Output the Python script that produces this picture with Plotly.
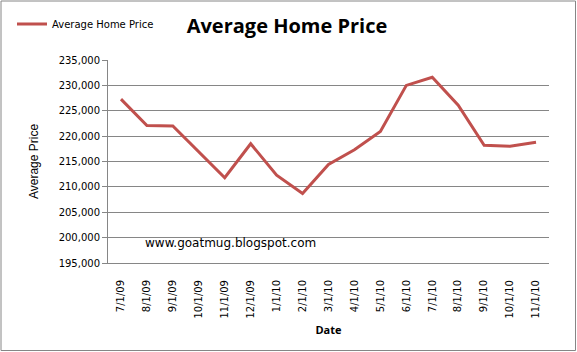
import plotly.graph_objects as go

dates = ["7/1/09", "8/1/09", "9/1/09", "10/1/09", "11/1/09", "12/1/09", "1/1/10",
         "2/1/10", "3/1/10", "4/1/10", "5/1/10", "6/1/10", "7/1/10", "8/1/10",
         "9/1/10", "10/1/10", "11/1/10"]
prices = [227300, 222100, 222000, 217000, 211800, 218500, 212300, 208700, 214400,
          217300, 220900, 230000, 231600, 226100, 218200, 218000, 218800]
y_ticks = [195000, 200000, 205000, 210000, 215000, 220000, 225000, 230000, 235000]

W, H = 577, 352
L, R, T, B = 108, 28, 60, 89
pw, ph = W - L - R, H - T - B

fig = go.Figure()
fig.add_trace(go.Scatter(
    x=dates, y=prices, mode="lines", name="Average Home Price",
    line=dict(color="#C0504D", width=3),
))

fig.update_layout(
    width=W, height=H,
    margin=dict(l=L, r=R, t=T, b=B, autoexpand=False),
    paper_bgcolor="white", plot_bgcolor="white",
    title=dict(text="<b>Average Home Price</b>", x=287 / W, xanchor="center",
               y=1 - 26 / H, yanchor="middle",
               font=dict(family="Open Sans", size=20, color="black")),
    showlegend=True,
    legend=dict(xref="paper", yref="paper", x=(12 - L) / pw, y=1 + (T - 24) / ph,
                xanchor="left", yanchor="middle",
                font=dict(family="DejaVu Sans", size=10, color="black"),
                bgcolor="rgba(0,0,0,0)", itemwidth=30),
    font=dict(family="DejaVu Sans", size=10, color="black"),
)

fig.update_xaxes(
    type="category", range=[-0.5, len(dates) - 0.5], tickangle=-90, showgrid=False,
    showline=True, linecolor="#868686", linewidth=1,
    ticks="outside", ticklen=12, tickcolor="rgba(0,0,0,0)",
    tickfont=dict(family="DejaVu Sans", size=10, color="black"),
    title=dict(text="<b>Date</b>", font=dict(family="Open Sans", size=11, color="black"),
               standoff=8),
    automargin=False,
)
fig.update_yaxes(
    range=[195000, 235000], tickvals=y_ticks,
    ticktext=[f"{v:,}" for v in y_ticks],
    showgrid=True, gridcolor="#868686", gridwidth=1,
    showline=True, linecolor="#868686", linewidth=1,
    ticks="outside", ticklen=5, tickcolor="#868686",
    tickfont=dict(family="DejaVu Sans", size=10, color="black"),
    title=dict(text="Average Price", font=dict(family="Liberation Sans", size=12, color="black"),
               standoff=17),
    zeroline=False, automargin=False,
)

fig.add_annotation(
    text="www.goatmug.blogspot.com", xref="paper", yref="paper",
    x=(143 - L) / pw, y=1 - (243 - T) / ph, xanchor="left", yanchor="middle",
    showarrow=False, font=dict(family="DejaVu Sans", size=12, color="black"),
)

fig.add_shape(
    type="rect", xref="paper", yref="paper",
    x0=(1 - L) / pw, x1=(575.5 - L) / pw,
    y0=1 - (350.5 - T) / ph, y1=1 - (1 - T) / ph,
    line=dict(color="#868686", width=1), fillcolor="rgba(0,0,0,0)", layer="above",
)

fig.write_html("out.html")
